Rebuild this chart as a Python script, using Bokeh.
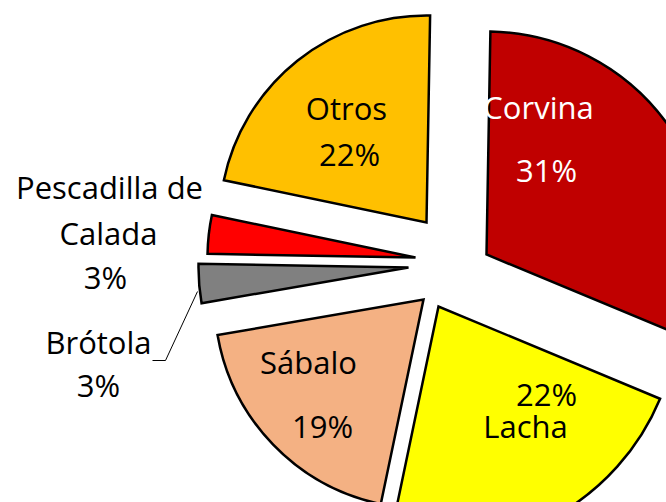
import math
from bokeh.plotting import figure
from bokeh.models import Range1d, ColumnDataSource
from bokeh.core.properties import value
from bokeh.embed import file_html
from bokeh.resources import INLINE

# ---- data ----
categories = ["Corvina", "Lacha", "Sábalo", "Brótola", "Pescadilla de\nCalada", "Otros"]
percent = [31, 22, 19, 3, 3, 22]
colors = ["#C00000", "#FFFF00", "#F4B183", "#808080", "#FF0000", "#FFC000"]

# ---- layout (pixel space of the page, y downward) ----
W, H = 666, 502
center = (459, 264)
start_deg = 1.0  # clockwise from 12 o'clock
offsets = [(27, -10), (-21, 42), (-36, 35), (-51, 3), (-44, -7), (-33, -42)]
radii = [223, 240, 209, 210, 208, 207]

p = figure(width=W, height=H, output_backend="svg", toolbar_location=None,
           x_range=Range1d(0, W), y_range=Range1d(0, H),
           min_border=0, outline_line_color=None)
p.axis.visible = False
p.grid.visible = False
p.background_fill_color = "white"
p.border_fill_color = "white"

def Y(py):
    return H - py

total = sum(percent)
acc = 0.0
xs, ys, sa, ea = [], [], [], []
for i, v in enumerate(percent):
    t1 = start_deg + 360.0 * acc / total
    acc += v
    t2 = start_deg + 360.0 * acc / total
    cx = center[0] + offsets[i][0]
    cy = center[1] + offsets[i][1]
    xs.append(cx)
    ys.append(Y(cy))
    sa.append(math.radians(90 - t2))
    ea.append(math.radians(90 - t1))

src = ColumnDataSource(dict(x=xs, y=ys, r=radii, s=sa, e=ea, c=colors))
p.wedge(x="x", y="y", radius="r", start_angle="s", end_angle="e", direction="anticlock",
        fill_color="c", line_color="black", line_width=2.5, line_join="miter", source=src)

# leader line for Brótola
p.line(x=[152, 165, 197], y=[Y(360), Y(360), Y(291)], line_color="black", line_width=1)

# labels: (category index, x, vertical centre y, kind)
label_pos = [
    (0, 538, 106, "name"), (0, 546, 169, "pct"),
    (1, 525, 425, "name"), (1, 546, 393, "pct"),
    (2, 308, 361, "name"), (2, 322, 425, "pct"),
    (3, 98, 341, "name"), (3, 98, 384, "pct"),
    (4, 109, 186, "name0"), (4, 108, 232, "name1"), (4, 105, 276, "pct"),
    (5, 346, 107, "name"), (5, 349, 153, "pct"),
]
tx, ty, tt, tc = [], [], [], []
for idx, x, y, kind in label_pos:
    name = categories[idx]
    if kind == "pct":
        s = f"{percent[idx]}%"
    elif kind == "name0":
        s = name.split("\n")[0]
    elif kind == "name1":
        s = name.split("\n")[1]
    else:
        s = name
    tx.append(x)
    ty.append(Y(y))
    tt.append(s)
    tc.append("white" if idx == 0 else "black")

p.text(x="x", y="y", text="t", text_color="c", source=ColumnDataSource(dict(x=tx, y=ty, t=tt, c=tc)),
       text_font=value("Open Sans"), text_font_size="31px", text_align="center",
       text_baseline="middle")

open("out.html", "w").write(file_html(p, INLINE))
